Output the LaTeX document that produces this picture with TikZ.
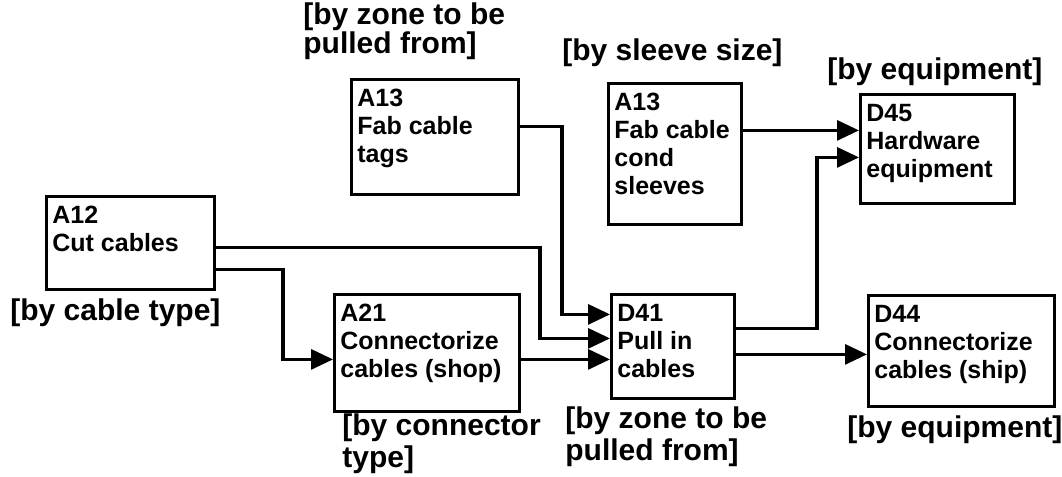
\documentclass[tikz,border=0pt]{standalone}
\usepackage{fontspec}
\setmainfont{Liberation Sans}
\usetikzlibrary{arrows.meta,calc}
\newcommand{\boxtext}[3]{\parbox[c][#2][t]{#1}{\raggedright #3}}

\begin{document}
\begin{tikzpicture}[
  x=0.5pt, y=-0.5pt,
  box/.style={draw, line width=1.4pt, anchor=north west, inner xsep=3pt, inner ysep=5pt,
    font=\bfseries\fontsize{12.5}{14}\selectfont},
  crit/.style={anchor=west, align=left, inner sep=0pt, font=\bfseries\fontsize{15}{16}\selectfont},
  arr/.style={-{Triangle[length=11pt, width=10pt]}, line width=1.6pt}
]
\useasboundingbox (0,0) rectangle (1062,477);
\node[box] (cut) at (45,195) {\boxtext{78pt}{36.5pt}{A12\\Cut cables}};
\node[box] (tags) at (350,78) {\boxtext{77.5pt}{47.5pt}{A13\\Fab cable\\tags}};
\node[box] (sleeves) at (607,82) {\boxtext{60.5pt}{60.5pt}{A13\\Fab cable\\cond\\sleeves}};
\node[box] (hw) at (859,93) {\boxtext{71pt}{44.5pt}{D45\\Hardware\\equipment}};
\node[box] (shop) at (333,293) {\boxtext{86.5pt}{48.5pt}{A21\\Connectorize\\cables (shop)}};
\node[box] (pull) at (610,293) {\boxtext{55.5pt}{42pt}{D41\\Pull in\\cables}};
\node[box] (ship) at (867,294) {\boxtext{87pt}{45.5pt}{D44\\Connectorize\\cables (ship)}};
\node[crit] (tagscrit) at (303,31) {[by zone to be\\[-1.5pt]pulled from]};
\node[crit] (sleevescrit) at (562,53) {[by sleeve size]};
\node[crit] (hwcrit) at (827,72) {[by equipment]};
\node[crit] (cutcrit) at (10,313) {[by cable type]};
\node[crit] (shopcrit) at (342,444) {[by connector\\type]};
\node[crit] (pullcrit) at (565,437) {[by zone to be\\pulled from]};
\node[crit] (shipcrit) at (847,430) {[by equipment]};
\draw[arr] ($(tags.east)+(0,-10.5)$) -| ($(pull.west)+(-48,-32)$) -- ($(pull.west)+(0,-32)$);
\draw[arr] ($(cut.east)+(0,4.5)$) -| ($(pull.west)+(-70,-8)$) -- ($(pull.west)+(0,-8)$);
\draw[arr] ($(cut.east)+(0,26.5)$) -| ($(shop.west)+(-50,6.5)$) -- ($(shop.west)+(0,6.5)$);
\draw[arr] ($(shop.east)+(0,6.5)$) -- ($(pull.west)+(0,13)$);
\draw[arr] ($(pull.east)+(0,-18)$) -| ($(hw.west)+(-42,8.5)$) -- ($(hw.west)+(0,8.5)$);
\draw[arr] ($(sleeves.east)+(0,-23.5)$) -- ($(hw.west)+(0,-18.5)$);
\draw[arr] ($(pull.east)+(0,8)$) -- ($(ship.west)+(0,3.5)$);
\end{tikzpicture}
\end{document}
